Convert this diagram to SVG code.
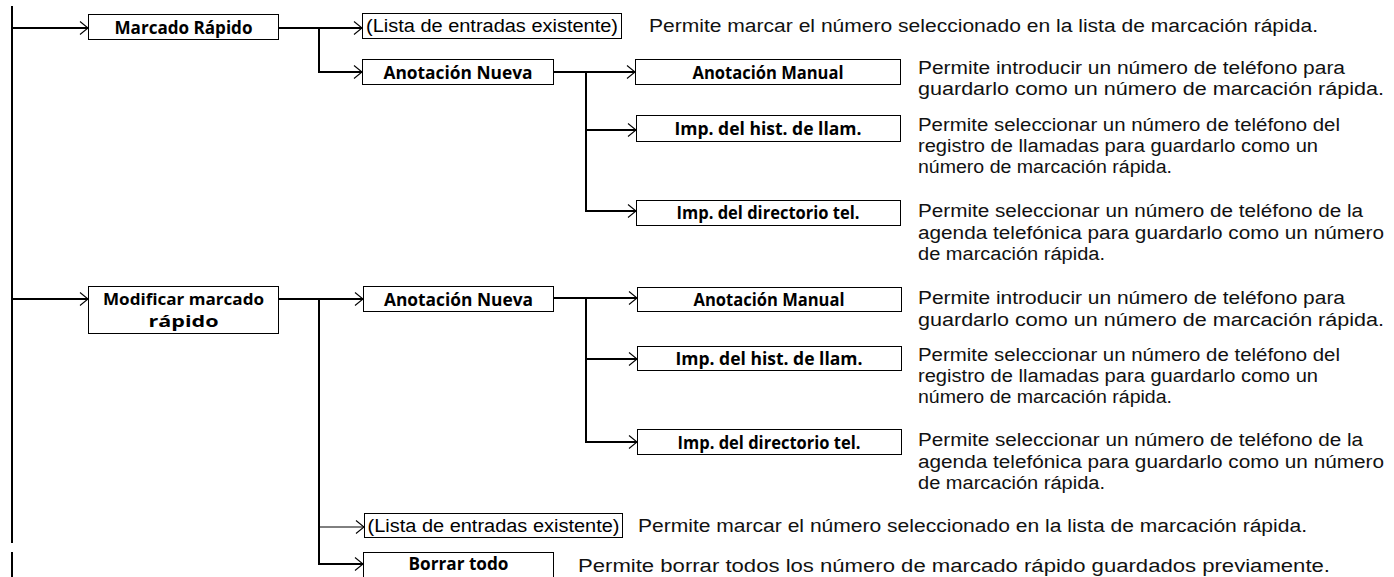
<svg xmlns="http://www.w3.org/2000/svg" width="1394" height="577" viewBox="0 0 1394 577">
<defs>
<marker id="arr" viewBox="-10 -8 12 16" refX="0" refY="0" markerWidth="12" markerHeight="16" markerUnits="userSpaceOnUse" orient="auto">
<path d="M-8,-6.5 L0,0 L-8,6.5" fill="none" stroke="#000" stroke-width="1.1"/>
</marker>
<style>
.ln{fill:none;stroke:#000;stroke-width:2}
.thin{fill:none;stroke:#000;stroke-width:1}
.bx{fill:#fff;stroke:#000;stroke-width:1}
.lb{font-family:"Open Sans","Liberation Sans",sans-serif;font-weight:bold;font-size:17.5px;fill:#000;text-anchor:middle}
.lr{font-family:"Liberation Sans","Open Sans",sans-serif;font-size:18px;fill:#000;text-anchor:middle}
.ds{font-family:"Liberation Sans","Open Sans",sans-serif;font-size:18px;fill:#111}
</style>
</defs>
<rect width="1394" height="577" fill="#fff"/>
<g id="connectors">
<path class="ln" d="M12,6 V543"/>
<path class="ln" d="M12,552 V577"/>
<path class="ln" d="M12,28 H88" marker-end="url(#arr)"/>
<path class="ln" d="M278,28 H362" marker-end="url(#arr)"/>
<path class="ln" d="M319,28 V72 H362" marker-end="url(#arr)"/>
<path class="ln" d="M553,72 H635" marker-end="url(#arr)"/>
<path class="ln" d="M586,72 V130 H636" marker-end="url(#arr)"/>
<path class="ln" d="M586,130 V211 H636" marker-end="url(#arr)"/>
<path class="ln" d="M12,299 H88" marker-end="url(#arr)"/>
<path class="ln" d="M278,299 H363" marker-end="url(#arr)"/>
<path class="ln" d="M319,299 V564 H363" marker-end="url(#arr)"/>
<path class="thin" d="M319,527 H364" marker-end="url(#arr)"/>
<path class="ln" d="M553,298 H637" marker-end="url(#arr)"/>
<path class="ln" d="M586,298 V359 H637" marker-end="url(#arr)"/>
<path class="ln" d="M586,359 V442 H637" marker-end="url(#arr)"/>
</g>
<g id="marcado-rapido">
<rect class="bx" x="88.5" y="14.5" width="190" height="25"/>
<text class="lb" x="183.5" y="33.5" textLength="138" lengthAdjust="spacingAndGlyphs">Marcado Rápido</text>
</g>
<g id="lista-1">
<rect class="bx" x="362.5" y="13.5" width="259" height="25"/>
<text class="lr" x="492" y="32" textLength="252" lengthAdjust="spacingAndGlyphs">(Lista de entradas existente)</text>
<text class="ds" x="649" y="32" textLength="669" lengthAdjust="spacingAndGlyphs">Permite marcar el número seleccionado en la lista de marcación rápida.</text>
</g>
<g id="anotacion-nueva-1">
<rect class="bx" x="362.5" y="59.5" width="191" height="25"/>
<text class="lb" x="458" y="78.5" textLength="149" lengthAdjust="spacingAndGlyphs">Anotación Nueva</text>
</g>
<g id="anotacion-manual-1">
<rect class="bx" x="635.5" y="59.5" width="265" height="25"/>
<text class="lb" x="768" y="78.5" textLength="151" lengthAdjust="spacingAndGlyphs">Anotación Manual</text>
<text class="ds" x="918" y="74" textLength="427" lengthAdjust="spacingAndGlyphs">Permite introducir un número de teléfono para</text>
<text class="ds" x="918" y="95" textLength="466" lengthAdjust="spacingAndGlyphs">guardarlo como un número de marcación rápida.</text>
</g>
<g id="imp-hist-1">
<rect class="bx" x="636.5" y="115.5" width="264" height="26"/>
<text class="lb" x="768" y="135" textLength="187" lengthAdjust="spacingAndGlyphs">Imp. del hist. de llam.</text>
<text class="ds" x="918" y="131" textLength="422" lengthAdjust="spacingAndGlyphs">Permite seleccionar un número de teléfono del</text>
<text class="ds" x="918" y="152" textLength="400" lengthAdjust="spacingAndGlyphs">registro de llamadas para guardarlo como un</text>
<text class="ds" x="918" y="173" textLength="254" lengthAdjust="spacingAndGlyphs">número de marcación rápida.</text>
</g>
<g id="imp-dir-1">
<rect class="bx" x="636.5" y="200.5" width="264" height="25"/>
<text class="lb" x="768" y="219" textLength="183" lengthAdjust="spacingAndGlyphs">Imp. del directorio tel.</text>
<text class="ds" x="918" y="217" textLength="445" lengthAdjust="spacingAndGlyphs">Permite seleccionar un número de teléfono de la</text>
<text class="ds" x="918" y="238.5" textLength="466" lengthAdjust="spacingAndGlyphs">agenda telefónica para guardarlo como un número</text>
<text class="ds" x="918" y="260" textLength="187" lengthAdjust="spacingAndGlyphs">de marcación rápida.</text>
</g>
<g id="modificar">
<rect class="bx" x="88.5" y="286.5" width="190" height="47"/>
<text class="lb" style="font-size:16px"><tspan x="183.5" y="304.5" textLength="161" lengthAdjust="spacingAndGlyphs">Modificar marcado</tspan><tspan x="183.5" y="326.5" textLength="70" lengthAdjust="spacingAndGlyphs">rápido</tspan></text>
</g>
<g id="anotacion-nueva-2">
<rect class="bx" x="363.5" y="286.5" width="190" height="25"/>
<text class="lb" x="458.5" y="305.5" textLength="149" lengthAdjust="spacingAndGlyphs">Anotación Nueva</text>
</g>
<g id="anotacion-manual-2">
<rect class="bx" x="637.5" y="287.5" width="264" height="24"/>
<text class="lb" x="769" y="305.5" textLength="151" lengthAdjust="spacingAndGlyphs">Anotación Manual</text>
<text class="ds" x="918" y="304" textLength="427" lengthAdjust="spacingAndGlyphs">Permite introducir un número de teléfono para</text>
<text class="ds" x="918" y="325.5" textLength="466" lengthAdjust="spacingAndGlyphs">guardarlo como un número de marcación rápida.</text>
</g>
<g id="imp-hist-2">
<rect class="bx" x="637.5" y="346.5" width="264" height="24"/>
<text class="lb" x="769" y="365" textLength="187" lengthAdjust="spacingAndGlyphs">Imp. del hist. de llam.</text>
<text class="ds" x="918" y="361" textLength="422" lengthAdjust="spacingAndGlyphs">Permite seleccionar un número de teléfono del</text>
<text class="ds" x="918" y="382" textLength="400" lengthAdjust="spacingAndGlyphs">registro de llamadas para guardarlo como un</text>
<text class="ds" x="918" y="403" textLength="254" lengthAdjust="spacingAndGlyphs">número de marcación rápida.</text>
</g>
<g id="imp-dir-2">
<rect class="bx" x="637.5" y="429.5" width="264" height="25"/>
<text class="lb" x="769" y="448.5" textLength="183" lengthAdjust="spacingAndGlyphs">Imp. del directorio tel.</text>
<text class="ds" x="918" y="446" textLength="445" lengthAdjust="spacingAndGlyphs">Permite seleccionar un número de teléfono de la</text>
<text class="ds" x="918" y="467.5" textLength="466" lengthAdjust="spacingAndGlyphs">agenda telefónica para guardarlo como un número</text>
<text class="ds" x="918" y="489" textLength="187" lengthAdjust="spacingAndGlyphs">de marcación rápida.</text>
</g>
<g id="lista-2">
<rect class="bx" x="364.5" y="513.5" width="258" height="24"/>
<text class="lr" x="493.5" y="532" textLength="252" lengthAdjust="spacingAndGlyphs">(Lista de entradas existente)</text>
<text class="ds" x="638" y="532" textLength="669" lengthAdjust="spacingAndGlyphs">Permite marcar el número seleccionado en la lista de marcación rápida.</text>
</g>
<g id="borrar-todo">
<rect class="bx" x="363.5" y="552.5" width="190" height="30"/>
<text class="lb" x="458.5" y="570" textLength="100" lengthAdjust="spacingAndGlyphs">Borrar todo</text>
<text class="ds" x="578" y="572" textLength="752" lengthAdjust="spacingAndGlyphs">Permite borrar todos los número de marcado rápido guardados previamente.</text>
</g>
</svg>
